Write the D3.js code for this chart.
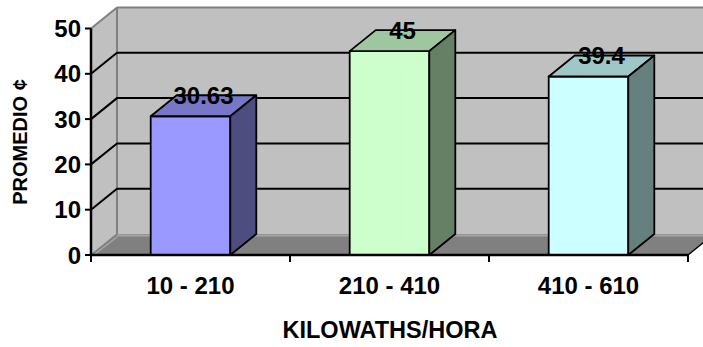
<!DOCTYPE html>
<html>
<head>
<meta charset="utf-8">
<script src="https://cdn.jsdelivr.net/npm/d3@7"></script>
<style>
  html, body { margin: 0; padding: 0; background: #ffffff; }
  svg { display: block; }
  text { font-family: Arial, "Liberation Sans", sans-serif; font-weight: bold; fill: #000; }
</style>
</head>
<body>
<svg id="chart" width="703" height="347"></svg>
<script>
// Average price per consumption range
const categories = ["10 - 210", "210 - 410", "410 - 610"];
const values = [30.63, 45, 39.4];
const valueLabels = ["30.63", "45", "39.4"];
const yTicks = [0, 10, 20, 30, 40, 50];
const frontColors = ["#9999ff", "#ccffcc", "#ccffff"];
const yTitle = "PROMEDIO \u00a2";
const xTitle = "KILOWATHS/HORA";

const W = 703, H = 347;
const svg = d3.select("#chart");

// front plane of the 3-D box and its depth offset
const left = 91, right = 688;
const dx = 26, dy = -21;

const x = d3.scaleBand().domain(categories).range([left, right]);
const y = d3.scaleLinear().domain([0, 50]).range([255, 28.5]);

const wallFill = "#c0c0c0", edge = "#808080";
const pts = a => a.map(p => p.join(",")).join(" ");

// back wall
svg.append("polygon")
  .attr("points", pts([[left + dx, y(50) + dy], [right + dx + 40, y(50) + dy],
                       [right + dx + 40, y(0) + dy], [left + dx, y(0) + dy]]))
  .attr("fill", wallFill);
// side wall
svg.append("polygon")
  .attr("points", pts([[left, y(50)], [left + dx, y(50) + dy], [left + dx, y(0) + dy], [left, y(0)]]))
  .attr("fill", wallFill);

// floor slab
svg.append("polygon")
  .attr("points", pts([[left, y(0)], [left + dx, y(0) + dy], [right + dx, y(0) + dy], [right, y(0)]]))
  .attr("fill", "#808080");
svg.append("line")
  .attr("x1", left + dx).attr("x2", right + dx + 40)
  .attr("y1", y(0) + dy + 1.5).attr("y2", y(0) + dy + 1.5)
  .attr("stroke", "#a6a6a6").attr("stroke-width", 2);
svg.append("line")
  .attr("x1", left + 4).attr("y1", y(0) - 1)
  .attr("x2", left + dx).attr("y2", y(0) + dy + 3)
  .attr("stroke", "#a6a6a6").attr("stroke-width", 1.5);
svg.append("line")
  .attr("x1", right).attr("y1", y(0))
  .attr("x2", right + dx).attr("y2", y(0) + dy)
  .attr("stroke", "#000").attr("stroke-width", 1.5);

// wall edges
svg.append("line")
  .attr("x1", left + dx).attr("x2", left + dx)
  .attr("y1", y(50) + dy).attr("y2", y(0) + dy)
  .attr("stroke", edge).attr("stroke-width", 2);
svg.append("line")
  .attr("x1", left + dx).attr("x2", W + 10)
  .attr("y1", y(50) + dy).attr("y2", y(50) + dy)
  .attr("stroke", edge).attr("stroke-width", 2);
svg.append("line")
  .attr("x1", left).attr("y1", y(50))
  .attr("x2", left + dx).attr("y2", y(50) + dy)
  .attr("stroke", edge).attr("stroke-width", 2);
svg.append("line")
  .attr("x1", left).attr("y1", y(0))
  .attr("x2", left + dx).attr("y2", y(0) + dy)
  .attr("stroke", edge).attr("stroke-width", 1.5);

// gridlines on the side and back walls
const grid = yTicks.filter(v => v > 0 && v < 50);
svg.append("g").selectAll("path").data(grid).join("path")
  .attr("d", v => `M${left},${y(v)} L${left + dx},${y(v) + dy} L${W + 10},${y(v) + dy}`)
  .attr("fill", "none").attr("stroke", "#000").attr("stroke-width", 2);

// columns
const bw = x.bandwidth() * 0.4;
const bars = svg.append("g").selectAll("g").data(values).join("g");
const shade = (c, k) => { const r = d3.rgb(c); return d3.rgb(r.r * k, r.g * k, r.b * k).toString(); };
bars.each(function (v, i) {
  const g = d3.select(this);
  const x0 = x(categories[i]) + (x.bandwidth() - bw) / 2, x1 = x0 + bw;
  const yt = y(v), yb = y(0);
  g.append("polygon")
    .attr("points", pts([[x0, yt], [x1, yt], [x1, yb], [x0, yb]]))
    .attr("fill", frontColors[i]);
  g.append("polygon")
    .attr("points", pts([[x0, yt], [x0 + dx, yt + dy], [x1 + dx, yt + dy], [x1, yt]]))
    .attr("fill", shade(frontColors[i], 0.78));
  g.append("polygon")
    .attr("points", pts([[x1, yt], [x1 + dx, yt + dy], [x1 + dx, yb + dy], [x1, yb]]))
    .attr("fill", shade(frontColors[i], 0.5));
  g.selectAll("polygon").attr("stroke", "#000").attr("stroke-width", 1.8).attr("stroke-linejoin", "round");
});

// front axes
svg.append("line")
  .attr("x1", left).attr("x2", left).attr("y1", y(50)).attr("y2", y(0) + 1)
  .attr("stroke", "#000").attr("stroke-width", 2.5);
svg.append("line")
  .attr("x1", left).attr("x2", right).attr("y1", y(0)).attr("y2", y(0))
  .attr("stroke", "#000").attr("stroke-width", 2.5);

// y ticks and labels
svg.append("g").selectAll("line").data(yTicks).join("line")
  .attr("x1", left - 6).attr("x2", left).attr("y1", d => y(d)).attr("y2", d => y(d))
  .attr("stroke", "#000").attr("stroke-width", 2);
svg.append("g").selectAll("text").data(yTicks).join("text")
  .attr("x", 81).attr("y", d => y(d)).attr("dy", "0.36em")
  .attr("text-anchor", "end").style("font-size", "24px")
  .text(d => d);

// x ticks at band edges and category labels
const edges = categories.map(c => x(c)).concat([right]);
svg.append("g").selectAll("line").data(edges).join("line")
  .attr("x1", d => d).attr("x2", d => d).attr("y1", y(0)).attr("y2", y(0) + 7)
  .attr("stroke", "#000").attr("stroke-width", 2);
svg.append("g").selectAll("text").data(categories).join("text")
  .attr("x", d => x(d) + x.bandwidth() / 2).attr("y", 293.5)
  .attr("text-anchor", "middle").style("font-size", "24px")
  .text(d => d);

// value labels above each column
svg.append("g").selectAll("text").data(values).join("text")
  .attr("x", (v, i) => x(categories[i]) + x.bandwidth() / 2 + dx / 2)
  .attr("y", v => y(v) - 12.5)
  .attr("text-anchor", "middle").style("font-size", "24px")
  .text((v, i) => valueLabels[i]);

// axis titles
svg.append("text")
  .attr("transform", "translate(27,142) rotate(-90)")
  .attr("text-anchor", "middle").style("font-size", "20px")
  .text(yTitle);
svg.append("text")
  .attr("x", 390).attr("y", 338)
  .attr("text-anchor", "middle").style("font-size", "23.5px")
  .text(xTitle);
</script>
</body>
</html>
